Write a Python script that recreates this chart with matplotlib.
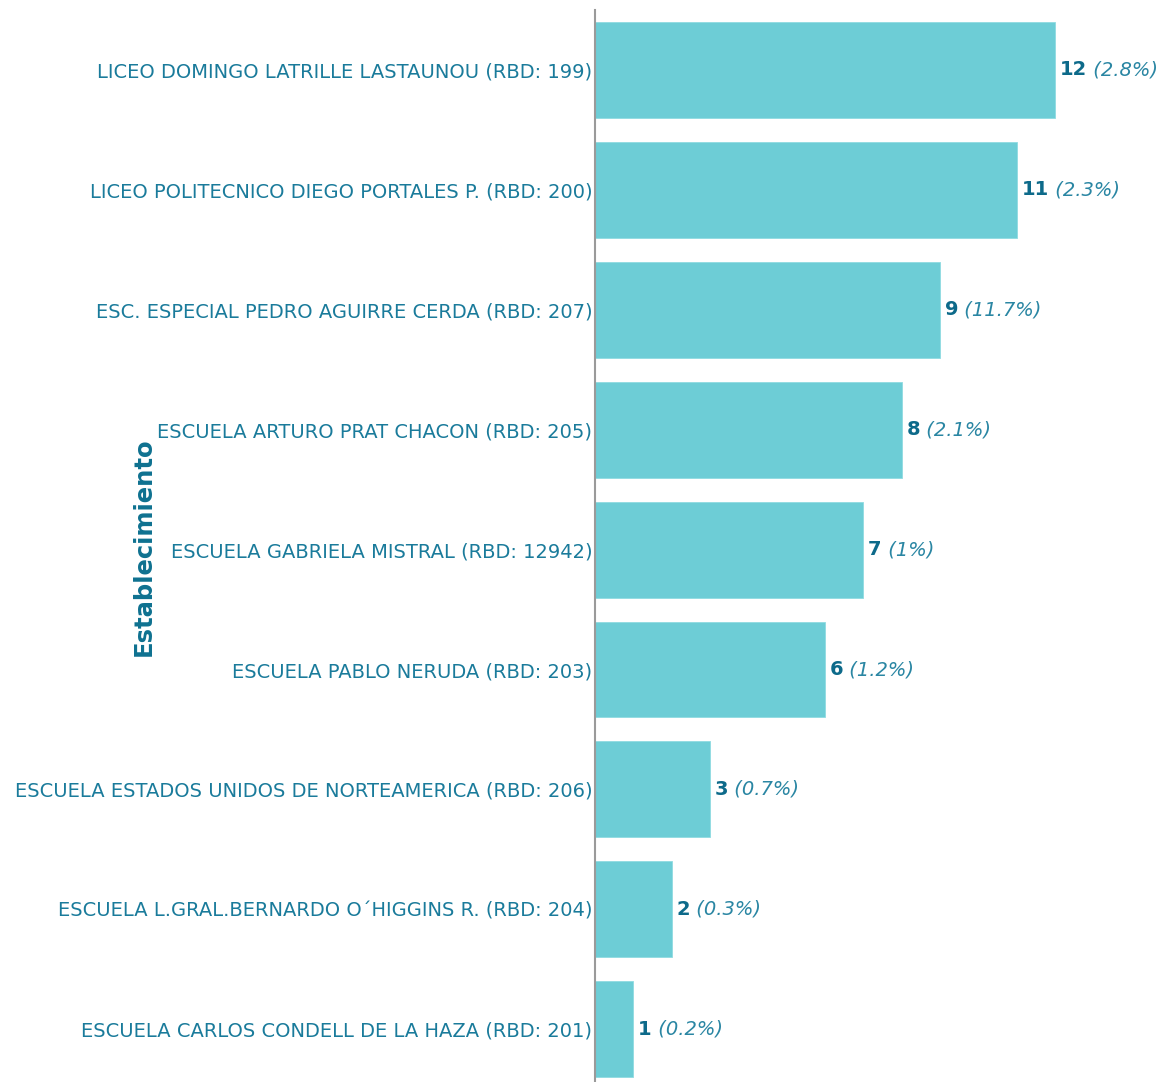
import matplotlib
matplotlib.use("Agg")
import matplotlib.pyplot as plt

schools = [
    "LICEO DOMINGO LATRILLE LASTAUNOU (RBD: 199)",
    "LICEO POLITECNICO DIEGO PORTALES P. (RBD: 200)",
    "ESC. ESPECIAL PEDRO AGUIRRE CERDA (RBD: 207)",
    "ESCUELA ARTURO PRAT CHACON (RBD: 205)",
    "ESCUELA GABRIELA MISTRAL (RBD: 12942)",
    "ESCUELA PABLO NERUDA (RBD: 203)",
    "ESCUELA ESTADOS UNIDOS DE NORTEAMERICA (RBD: 206)",
    "ESCUELA L.GRAL.BERNARDO O\u00b4HIGGINS R. (RBD: 204)",
    "ESCUELA CARLOS CONDELL DE LA HAZA (RBD: 201)",
]
counts = [12, 11, 9, 8, 7, 6, 3, 2, 1]
percents = ["2.8%", "2.3%", "11.7%", "2.1%", "1%", "1.2%", "0.7%", "0.3%", "0.2%"]

BAR_COLOR = "#6dcdd6"
LABEL_COLOR = "#1a7b9b"
NUM_COLOR = "#0d6a8a"
PCT_COLOR = "#2a86a3"

plt.rcParams["font.family"] = ["DejaVu Sans"]

W, H = 1163, 1082
fig = plt.figure(figsize=(W / 100, H / 100), dpi=100)
ax = fig.add_axes([595 / W, 0.0, (W - 595) / W, (1082 - 10) / H])

ypos = list(range(len(schools)))
ax.barh(ypos, counts, height=0.8, color=BAR_COLOR, edgecolor="#8fdbe1", linewidth=0.6)

ax.set_xlim(0, (W - 595) / 38.33)
ax.set_ylim(8.44, -0.5)

ax.set_yticks(ypos)
ax.set_yticklabels(schools, fontsize=14, color=LABEL_COLOR)
ax.tick_params(axis="y", length=0, pad=2)
ax.set_xticks([])

for side in ["top", "right", "bottom"]:
    ax.spines[side].set_visible(False)
ax.spines["left"].set_color("#9a9a9a")
ax.spines["left"].set_linewidth(1.5)

ax.set_ylabel("Establecimiento", fontsize=17.5, fontweight="bold", color="#0e7190")
ax.yaxis.set_label_coords(-0.774, 0.499)

for y, c, p in zip(ypos, counts, percents):
    t = ax.annotate(str(c), xy=(c, y), xytext=(3.5, 0), textcoords="offset points",
                    ha="left", va="center", fontsize=14, fontweight="bold",
                    color=NUM_COLOR, annotation_clip=False)
    ax.annotate(" (" + p + ")", xy=(1, 0.5), xycoords=t, ha="left", va="center",
                fontsize=14, fontstyle="italic", color=PCT_COLOR,
                annotation_clip=False)

fig.savefig("out.png", dpi=100)
